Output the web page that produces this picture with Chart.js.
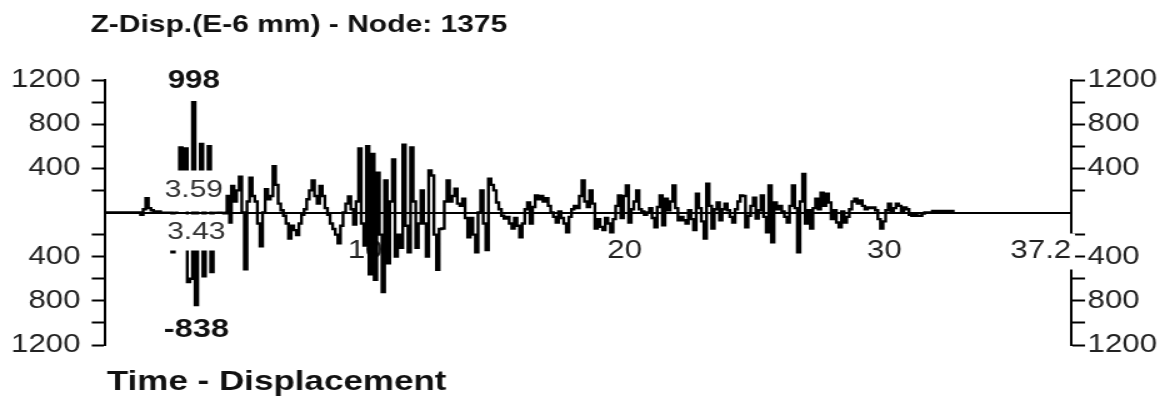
<!DOCTYPE html>
<html>
<head>
<meta charset="utf-8">
<title>Time - Displacement</title>
<script src="https://cdn.jsdelivr.net/npm/chart.js@4.4.1/dist/chart.umd.min.js"></script>
<style>
  html, body { margin: 0; padding: 0; background: #fff; overflow: hidden; }
  #wrap { width: 1169px; height: 400px; overflow: hidden; }
  /* the original picture is stretched sideways, so the canvas is too */
  #myChart { transform: scaleX(1.25); transform-origin: 0 0; }
</style>
</head>
<body>
<div id="wrap"><canvas id="myChart" width="935" height="400"></canvas></div>
<script>
var chartTitle = "Z-Disp.(E-6 mm) - Node: 1375";
var footTitle = "Time - Displacement";

// Z displacement (E-6 mm), one value every DT seconds from t = 0
var DT = 0.1;
var disp = [
  0, 0, 0, 0, 0, 0, 0, 0, 0, 0,
  0, 0, 0, 0, -20, 30, 130, 40, 20, 10,
  0, 10, 0, 10, 0, 10, -360, 0, 100, 590,
  200, 580, -630, -600, 998, -838, 200, 620, -577, 100,
  600, -540, 0, 0, 10, 0, -20, 150, -90, 240,
  100, 200, 325, 0, -515, 100, 315, 150, 100, -100,
  -305, 0, 210, 120, 150, 420, 250, 80, 20, -30,
  -100, -235, -120, -160, -205, -100, -20, 30, 120, 200,
  290, 150, 80, 240, 150, 40, -20, -100, -150, -200,
  -280, -120, 0, 80, 145, 30, -110, 100, 580, -100,
  -300, 600, -560, 530, -610, 360, -200, -720, 290, -460,
  100, 480, -400, -200, -320, 615, -120, -360, 590, 100,
  -320, -100, 200, -100, -400, 380, 335, -200, -520, -150,
  -145, 100, 290, 100, 150, 215, 80, 60, 125, -50,
  -225, -50, -200, -360, 0, 200, -100, -340, 305, 250,
  200, 90, 30, -30, -55, -40, -100, -145, -50, -120,
  -225, -100, 30, 90, -100, 50, 155, 120, 150, 100,
  130, 60, 0, -40, -90, 10, -50, -100, -180, -40,
  30, 60, 40, 150, 290, 100, 50, 200, 80, -145,
  -60, -130, -160, -50, -100, -180, -60, 60, 155, -50,
  150, 245, -90, 30, 100, 200, 30, 10, -20, 0,
  40, -50, -135, 50, 155, -117, 125, 20, 100, 245,
  40, -70, -40, -70, -100, 20, -60, -160, 170, 40,
  -80, -235, 260, 60, -145, 30, 90, -70, 30, 80,
  20, -40, -90, 30, 100, 155, 150, -135, -30, 60,
  135, -55, 20, 155, -40, -180, 245, -270, 90, 30,
  60, 10, -40, -90, 60, 245, 40, -360, 100, 350,
  -100, 20, -145, 40, 125, 30, 180, 60, 170, 90,
  -60, 20, -90, -135, 10, -90, -40, 30, 100, 125,
  80, 110, 60, 30, 45, 40, 45, 20, -60, -145,
  -80, 20, 80, 10, 40, 80, 60, 10, 45, 30,
  -20, -30, -10, -30, -30, -10, 0, 0, 0, 15,
  0, 15, 0, 15, 15, 0, 15, 0
];

// extreme values and the times printed for them
var peakTimes = [3.59, 3.43];
var peakValues = [998, -838];

// axes
var xTickValues = [0, 10, 20, 30, 37.2];
var xTickLabels = ["", "10", "20", "30", "37.2"];
var yLabelled = [1200, 800, 400, -400, -800, -1200];

var FONT = '"Liberation Sans", Arial, sans-serif';
Chart.defaults.font.family = FONT;
Chart.defaults.color = '#222';

var points = disp.map(function (v, i) {
  return { x: Math.round(i * DT * 10) / 10, y: v };
});

function yLabel(v) {
  return yLabelled.indexOf(v) >= 0 ? String(Math.abs(v)) : '';
}

function tickCol(c) {
  return c.tick && c.tick.value === 0 ? 'rgba(0,0,0,0)' : '#000';
}

function boxed(ctx, txt, cx, cy, top, bottom) {
  var w = ctx.measureText(txt).width;
  ctx.fillStyle = '#fff';
  ctx.fillRect(cx - w / 2 - 2, top, w + 4, bottom - top);
  ctx.fillStyle = '#333';
  ctx.fillText(txt, cx, cy);
}

var textPlugin = {
  id: 'plotTexts',
  afterDatasetsDraw: function (chart) {
    var ctx = chart.ctx;
    var xs = chart.scales.x, ys = chart.scales.y;
    var y0 = ys.getPixelForValue(0);
    var iMax = disp.indexOf(Math.max.apply(null, disp));
    var iMin = disp.indexOf(Math.min.apply(null, disp));
    var xMax = xs.getPixelForValue(iMax * DT);
    var xMin = xs.getPixelForValue(iMin * DT);

    ctx.save();
    ctx.textAlign = 'center';
    ctx.textBaseline = 'middle';
    ctx.font = '24px ' + FONT;
    boxed(ctx, peakTimes[0].toFixed(2), xMax, y0 - 22, y0 - 42, y0 - 1);
    boxed(ctx, peakTimes[1].toFixed(2), xMin, y0 + 20, y0 + 2, y0 + 38);

    ctx.fillStyle = '#111';
    ctx.textBaseline = 'alphabetic';
    ctx.font = 'bold 25px ' + FONT;
    ctx.fillText(String(peakValues[0]), xMax, ys.getPixelForValue(peakValues[0]) - 14);
    ctx.font = 'bold 26px ' + FONT;
    ctx.fillText(String(peakValues[1]), xMin, ys.getPixelForValue(peakValues[1]) + 32);
    ctx.restore();
  },
  afterDraw: function (chart) {
    var ctx = chart.ctx, area = chart.chartArea;
    ctx.save();
    ctx.fillStyle = '#111';
    ctx.textAlign = 'left';
    ctx.textBaseline = 'alphabetic';
    ctx.font = 'bold 24px ' + FONT;
    ctx.fillText(chartTitle, area.left - 12, 32);
    ctx.font = 'bold 28px ' + FONT;
    ctx.fillText(footTitle, area.left + 1, 390);
    ctx.restore();
  }
};

new Chart("myChart", {
  type: "line",
  data: {
    datasets: [{
      data: points,
      borderColor: '#000',
      borderWidth: 2.4,
      pointRadius: 0,
      stepped: 'middle',
      fill: false
    }]
  },
  options: {
    responsive: false,
    animation: false,
    devicePixelRatio: 1,
    layout: {
      padding: { left: 8.4, right: 10, top: 80, bottom: 55 }
    },
    plugins: {
      legend: { display: false },
      tooltip: { enabled: false },
      title: { display: false }
    },
    scales: {
      x: {
        type: 'linear',
        min: 0,
        max: 37.2,
        position: { y: 0 },
        grid: { drawOnChartArea: false, drawTicks: false },
        border: { display: true, color: '#000', width: 2 },
        afterBuildTicks: function (s) {
          s.ticks = xTickValues.map(function (v) { return { value: v }; });
        },
        ticks: {
          autoSkip: false,
          maxRotation: 0,
          align: 'inner',
          padding: 24,
          color: '#222',
          font: { size: 25 },
          callback: function (v, i) { return xTickLabels[i]; },
          showLabelBackdrop: function (c) { return c.index === xTickValues.length - 1; },
          backdropColor: '#fff',
          backdropPadding: 3
        }
      },
      y: {
        type: 'linear',
        position: 'left',
        min: -1200,
        max: 1200,
        afterFit: function (s) { s.width = 76; },
        grid: { drawOnChartArea: false, drawTicks: true, tickLength: 11, tickWidth: 2, tickColor: tickCol },
        border: { display: true, color: '#000', width: 2 },
        ticks: {
          stepSize: 200,
          autoSkip: false,
          padding: 9,
          color: '#222',
          font: { size: 25 },
          callback: yLabel
        }
      },
      y2: {
        type: 'linear',
        position: 'right',
        min: -1200,
        max: 1200,
        afterFit: function (s) { s.width = 68; },
        grid: { drawOnChartArea: false, drawTicks: true, tickLength: 11, tickWidth: 2, tickColor: tickCol },
        border: { display: true, color: '#000', width: 2, z: -1 },
        ticks: {
          stepSize: 200,
          autoSkip: false,
          padding: 2,
          color: '#222',
          font: { size: 25 },
          callback: yLabel
        }
      }
    }
  },
  plugins: [textPlugin]
});
</script>
</body>
</html>
